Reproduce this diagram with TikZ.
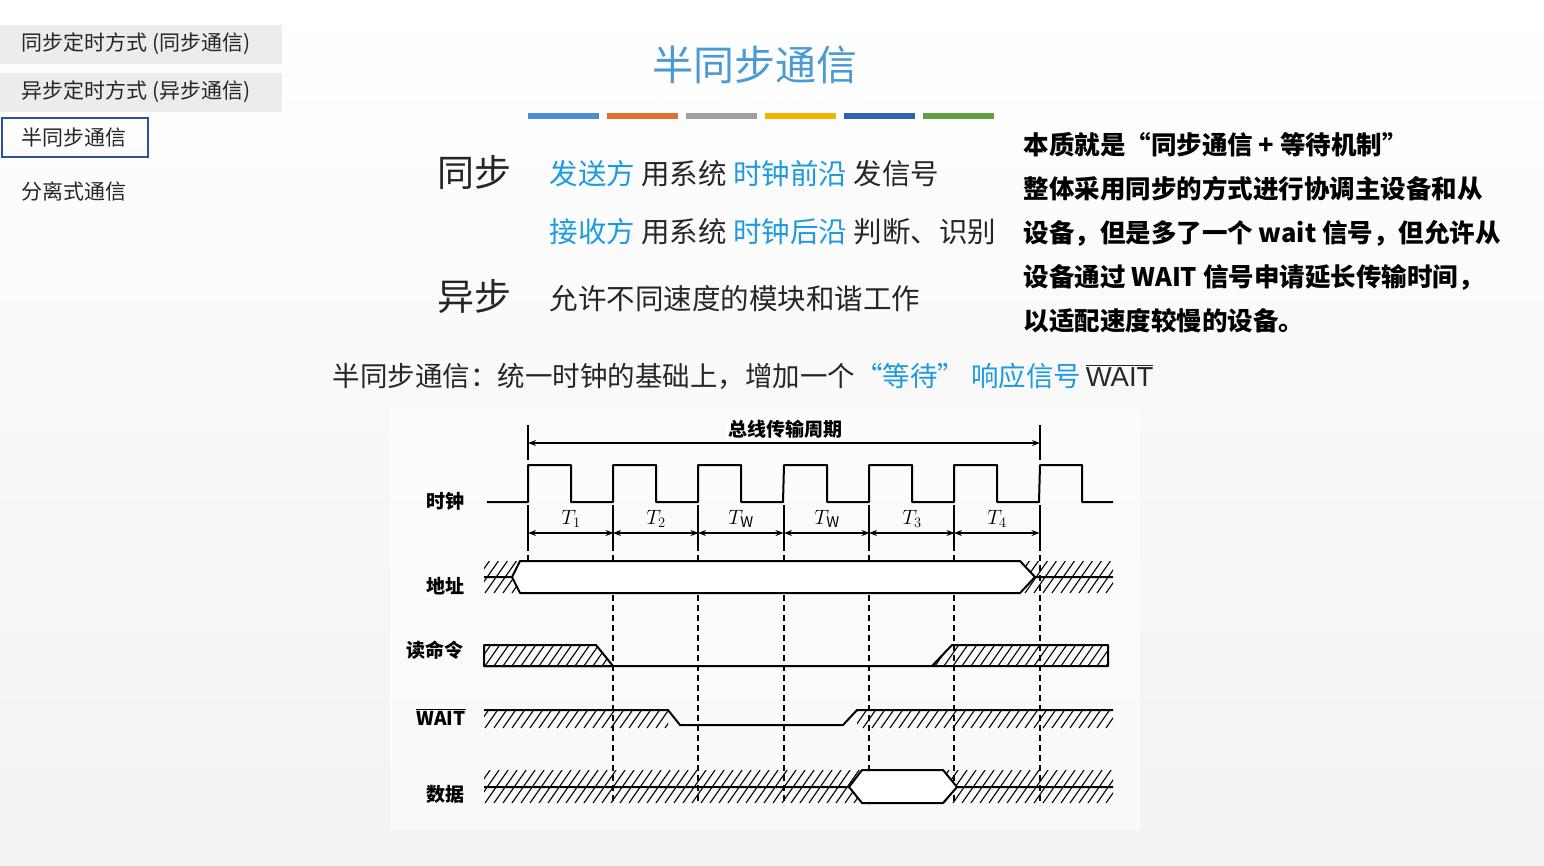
\documentclass[tikz,border=0pt]{standalone}
\usepackage{fontspec}
\usetikzlibrary{arrows.meta}
\setmainfont{Noto Sans CJK SC}
\newfontfamily\lat{Liberation Sans}
\definecolor{bg}{HTML}{F2F2F2}
\definecolor{ttl}{HTML}{4A9AD4}
\definecolor{hl}{HTML}{1E9BE0}
\definecolor{menu}{HTML}{ECECEC}
\definecolor{selb}{HTML}{2E4FA0}
\newcommand\ovl[1]{\leavevmode\vbox{\hrule height 1.2pt\kern1.5pt\hbox{#1}}}
\tikzset{
 sig/.style={line width=2pt,black,line join=round},
 hatchline/.style={line width=1.1pt,black},
 dsh/.style={dashed,line width=1.1pt,dash pattern=on 6pt off 4pt},
 lbl/.style={font=\fontsize{19}{19}\selectfont\bfseries},
 meas/.style={line width=1.1pt,{Stealth[length=8pt]}-{Stealth[length=8pt]}},
 menuitem/.style={anchor=west,font=\fontsize{21}{21}\selectfont,text=black!85},
 body/.style={anchor=west,font=\fontsize{28.5}{28.5}\selectfont,text=black!85},
 rt/.style={anchor=west,font=\fontsize{25.5}{25.5}\selectfont\bfseries},
}
\newcommand\hatchp[3]{\begin{scope}\clip #3;
 \foreach \k in {440,449,...,1130}{\draw[hatchline] (\k,#2)--({\k+(#2-#1)*0.7},#1);}\end{scope}}
\begin{document}
\begin{tikzpicture}[x=1pt,y=-1pt]
\useasboundingbox (0,0) rectangle (1544,865);
\shade[top color=white,bottom color=bg] (0,0) rectangle (1544,865);
\fill[white,opacity=0.6] (390,410) rectangle (1140,830);
% menu
\fill[menu] (0,25) rectangle (282,64);
\fill[menu] (0,73) rectangle (282,112);
\node[menuitem] (m1) at (18,44) {同步定时方式 (同步通信)};
\node[menuitem] (m2) at (18,92) {异步定时方式 (异步通信)};
\draw[selb,line width=2.5pt] (2,118) rectangle (148,157);
\node[menuitem] (m3) at (18,138) {半同步通信};
\node[menuitem] (m4) at (18,191) {分离式通信};
% title
\node[text=ttl,font=\fontsize{41}{41}\selectfont] (title) at (755,65) {半同步通信};
\foreach \x/\c in {528/4A8FCF,607/E07030,686/A0A0A0,765/F0B400,844/3060B0,923/60A040}{
 \definecolor{cc}{HTML}{\c}\fill[cc] (\x,113) rectangle (\x+71,119);}
% body
\node[anchor=west,font=\fontsize{37}{37}\selectfont,text=black!85] (s1) at (434,172) {同步};
\node[anchor=west,font=\fontsize{37}{37}\selectfont,text=black!85] (s2) at (434,296) {异步};
\node[body] (b1) at (546,174) {\textcolor{hl}{发送方} 用系统 \textcolor{hl}{时钟前沿} 发信号};
\node[body] (b2) at (546,232) {\textcolor{hl}{接收方} 用系统 \textcolor{hl}{时钟后沿} 判断、识别};
\node[body] (b3) at (546,299) {允许不同速度的模块和谐工作};
\node[anchor=west,font=\fontsize{27.5}{27.5}\selectfont,text=black!85] (b4) at (329,376) {半同步通信：统一时钟的基础上，增加一个\textcolor{hl}{ “等待” 响应信号}\,{\lat\ovl{WAIT}}};
\node[rt] (r1) at (1020,145) {本质就是“同步通信 + 等待机制”};
\node[rt] (r2) at (1020,189) {整体采用同步的方式进行协调主设备和从};
\node[rt] (r3) at (1020,233) {设备，但是多了一个 wait 信号，但允许从};
\node[rt] (r4) at (1020,277) {设备通过 WAIT 信号申请延长传输时间，};
\node[rt] (r5) at (1020,321) {以适配速度较慢的设备。};
% timing: bus cycle
\draw[line width=1.1pt] (528,425)--(528,460) (1040,425)--(1040,460);
\draw[meas] (528,443)--(1040,443);
\node[font=\fontsize{19}{19}\selectfont\bfseries,fill=white,inner sep=1pt] (cyc) at (785,429) {总线传输周期};
% clock
\draw[sig] (487,502)--(528,502)
 \foreach \r in {528,613,698,784,869,954}{--(\r,465)--(\r+43,465)--(\r+43,502)--(\r+85,502)}
 --(1040,465)--(1082,465)--(1082,502)--(1113,502);
\foreach \x in {528,613,698,784,869,954,1040}{\draw[line width=1.1pt] (\x,505)--(\x,545);}
\foreach \a/\t in {528/{T_1},613/{T_2},698/{T_{\mathrm W}},784/{T_{\mathrm W}},869/{T_3},954/{T_4}}{
 \draw[meas] (\a,533)--(\a+85.5,533);
 \node[font=\fontsize{21}{21}\selectfont] at (\a+43,519) {$\t$};}
\foreach \x in {613,698,784,869,954,1040}{\draw[dsh] (\x,545)--(\x,805);}
\draw[dsh] (528,545)--(528,562);
% labels
\node[lbl] (l1) at (445,501) {时钟};
\node[lbl] (l2) at (445,586) {地址};
\node[lbl] (l3) at (435,650) {读命令};
\node[font=\fontsize{19}{19}\selectfont\bfseries\rmfamily] (l4) at (441,717) {\ovl{WAIT}};
\node[lbl] (l5) at (445,794) {数据};
% address
\hatchp{561}{593}{(484,561)--(520,561)--(512,577)--(520,593)--(484,593)--cycle}
\hatchp{561}{593}{(1020,561)--(1113,561)--(1113,593)--(1020,593)--(1035,577)--cycle}
\fill[white] (520,561)--(1020,561)--(1035,577)--(1020,593)--(520,593)--(512,577)--cycle;
\draw[sig] (484,577)--(512,577)--(520,561)--(1020,561)--(1035,577)--(1113,577);
\draw[sig] (512,577)--(520,593)--(1020,593)--(1035,577);
% read
\hatchp{645}{666}{(484,645)--(596,645)--(613,666)--(484,666)--cycle}
\hatchp{645}{666}{(952,645)--(1108,645)--(1108,666)--(932,666)--cycle}
\draw[sig] (484,645)--(596,645)--(613,666)--(484,666)--cycle;
\draw[sig] (484,666)--(1108,666)--(1108,645)--(952,645)--(932,666);
% wait
\hatchp{710}{728}{(484,710)--(668,710)--(668,728)--(484,728)--cycle}
\hatchp{710}{728}{(857,710)--(1113,710)--(1113,728)--(857,728)--cycle}
\draw[sig] (484,710)--(668,710)--(680,725)--(843,725)--(857,710)--(1113,710);
% data
\hatchp{770}{803}{(484,770)--(862,770)--(849,787)--(862,803)--(484,803)--cycle}
\hatchp{770}{803}{(943,770)--(1113,770)--(1113,803)--(943,803)--(957,787)--cycle}
\fill[white] (849,787)--(862,770)--(943,770)--(957,787)--(943,803)--(862,803)--cycle;
\draw[sig] (484,787)--(849,787)--(862,770)--(943,770)--(957,787)--(1113,787);
\draw[sig] (849,787)--(862,803)--(943,803)--(957,787);
\end{tikzpicture}
\end{document}
